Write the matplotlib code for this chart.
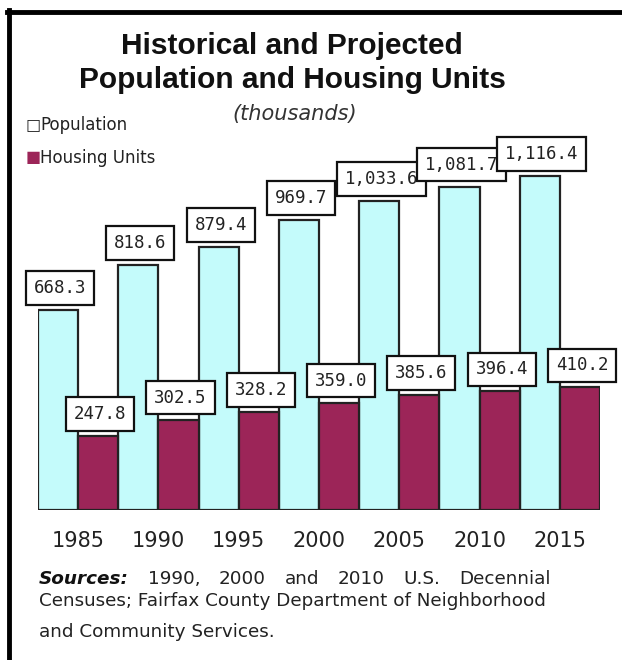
import numpy as np
import matplotlib.pyplot as plt
from matplotlib.lines import Line2D

# data
years = ["1985", "1990", "1995", "2000", "2005", "2010", "2015"]
population = [668.3, 818.6, 879.4, 969.7, 1033.6, 1081.7, 1116.4]
housing = [247.8, 302.5, 328.2, 359.0, 385.6, 396.4, 410.2]

pop_color = "#c4fbfb"
house_color = "#9c2558"

W, H = 622, 660
fig = plt.figure(figsize=(W / 100, H / 100), dpi=100)

# plot area in pixels: x 38..600, baseline at y 510
ax = fig.add_axes([38 / W, (H - 510) / H, 562 / W, 400 / H])
x = np.arange(len(years))
bw = 0.5
ax.bar(x - bw / 2, population, bw, color=pop_color, edgecolor="#222222", linewidth=1.6, zorder=2)
ax.bar(x + bw / 2, housing, bw, color=house_color, edgecolor="#222222", linewidth=1.6, zorder=2)
ax.set_xlim(-0.5, len(years) - 0.5)
ax.set_ylim(0, 400 / 0.299)
ax.axis("off")

box = dict(boxstyle="square,pad=0.45", fc="white", ec="#111111", lw=1.6)
def label(xpos, v, z):
    ax.annotate(f"{v:,.1f}", (xpos, v), xytext=(2, 22), textcoords="offset pixels",
                ha="center", va="center", family="DejaVu Sans Mono", fontsize=12.5,
                color="#222222", bbox=box, zorder=z, annotation_clip=False)

for i in range(len(years)):
    label(x[i] - bw / 2, population[i], 5 + i)
    label(x[i] + bw / 2, housing[i], 5 + i)
    ax.annotate(years[i], (x[i], 0), xytext=(0, -31), textcoords="offset pixels",
                ha="center", va="center", fontsize=15, color="#222222", annotation_clip=False)

# frame lines (top and left only)
fig.add_artist(Line2D([7 / W, 1], [(H - 12) / H] * 2, color="black", lw=3.5))
fig.add_artist(Line2D([9 / W] * 2, [0, (H - 10) / H], color="black", lw=3.5))

# title
fig.text(292 / W, 1 - 46 / H, "Historical and Projected", ha="center", va="center",
         family="Liberation Sans", weight="bold", fontsize=21.5, color="#111111")
fig.text(292 / W, 1 - 80 / H, "Population and Housing Units", ha="center", va="center",
         family="Liberation Sans", weight="bold", fontsize=21.5, color="#111111")
fig.text(295 / W, 1 - 114 / H, "(thousands)", ha="center", va="center",
         style="italic", fontsize=15, color="#333333")

# legend
fig.text(26 / W, 1 - 125 / H, "\u25a1", ha="left", va="center", fontsize=11.5, color="#222222")
fig.text(40 / W, 1 - 125 / H, "Population", ha="left", va="center", fontsize=12, color="#222222")
fig.text(26 / W, 1 - 158 / H, "\u25a0", ha="left", va="center", fontsize=11.5, color=house_color)
fig.text(40 / W, 1 - 158 / H, "Housing Units", ha="left", va="center", fontsize=12, color="#222222")

# sources, first line justified between x=39 and x=551
src_fs = 13.2
words = ["Sources:", "1990,", "2000", "and", "2010", "U.S.", "Decennial"]
r = fig.canvas.get_renderer()
arts = []
for k, wd in enumerate(words):
    kw = dict(weight="bold", style="italic", color="#111111") if k == 0 else dict(color="#222222")
    arts.append(fig.text(0, 1 - 579 / H, wd, ha="left", va="center", fontsize=src_fs, **kw))
widths = [a.get_window_extent(r).width for a in arts]
gap = (551 - 39 - sum(widths)) / (len(words) - 1)
xp = 39
for a, w in zip(arts, widths):
    a.set_x(xp / W)
    xp += w + gap
fig.text(39 / W, 1 - 601 / H, "Censuses; Fairfax County Department of Neighborhood", ha="left",
         va="center", fontsize=src_fs, color="#222222")
fig.text(39 / W, 1 - 632 / H, "and Community Services.", ha="left", va="center", fontsize=src_fs,
         color="#222222")

fig.savefig("out.png", dpi=100, facecolor="white")
